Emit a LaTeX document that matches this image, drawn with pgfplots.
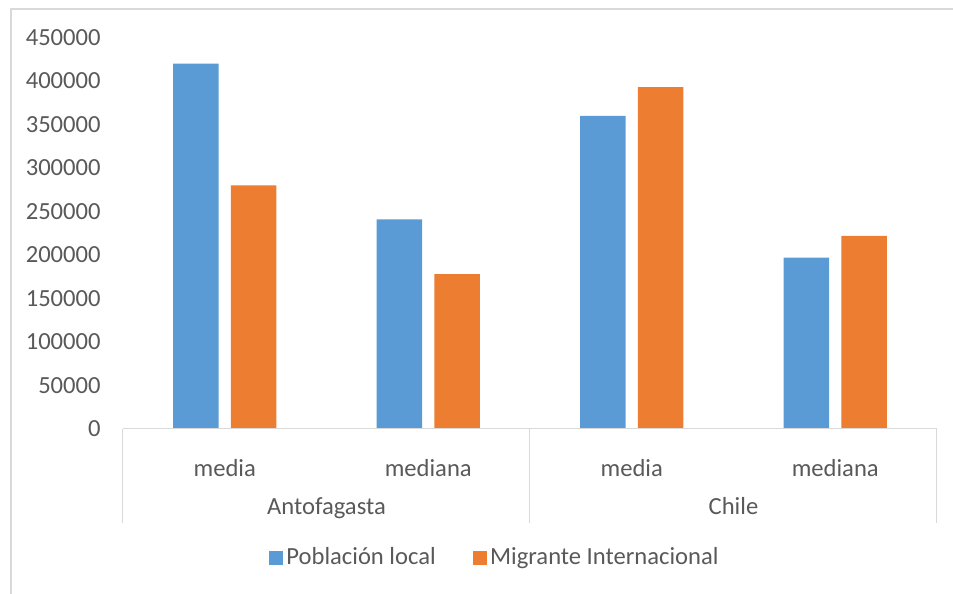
\documentclass[border=0pt]{standalone}
\usepackage{fontspec}
\setmainfont{Carlito}
\usepackage{pgfplots}
\pgfplotsset{compat=1.18}
\definecolor{locblue}{HTML}{5B9BD5}
\definecolor{migorange}{HTML}{ED7D31}
\definecolor{txtgray}{HTML}{595959}
\definecolor{linegray}{HTML}{D9D9D9}
\newcommand{\chartfont}{\fontsize{12.3}{14.5}\selectfont}

\begin{document}
\begin{tikzpicture}[x=1pt,y=1pt]
\useasboundingbox (0,0) rectangle (476.5,297);
% chart frame
\draw[linegray, line width=0.85pt] (5.5,-3) -- (5.5,292.5) -- (480,292.5);
\begin{axis}[
  at={(61.5pt,82.5pt)}, anchor=south west,
  scale only axis, width=407pt, height=195.75pt,
  clip=false,
  ymin=0, ymax=450000,
  ytick={0,50000,100000,150000,200000,250000,300000,350000,400000,450000},
  yticklabels={0,50000,100000,150000,200000,250000,300000,350000,400000,450000},
  scaled y ticks=false,
  xmin=-0.5, xmax=3.5,
  xtick={0,1,2,3}, xticklabels={media,mediana,media,mediana},
  ybar=6.15pt, bar width=22.75pt,
  axis line style={draw=none},
  tick style={draw=none},
  yticklabel style={anchor=east, inner sep=0pt, xshift=-11pt, font=\chartfont, text=txtgray},
  xticklabel style={anchor=base, inner sep=0pt, yshift=-19.5pt, font=\chartfont, text=txtgray},
  legend style={at={(0.4576,-0.3287)}, anchor=center, draw=none, fill=none,
    legend columns=2, font=\chartfont, text=txtgray,
    /tikz/every even column/.append style={column sep=17pt},
    nodes={inner sep=1.6pt}},
  legend cell align=left,
  legend image code/.code={\fill[#1] (0pt,-3.5pt) rectangle (7pt,3.5pt);},
]
\addplot[fill=locblue, draw=none] coordinates {(0,420000) (1,241000) (2,360000) (3,197000)};
\addplot[fill=migorange, draw=none] coordinates {(0,280000) (1,178000) (2,393000) (3,222000)};
\legend{Población local, Migrante Internacional}
% category axis and group separators
\draw[linegray, line width=0.5pt] (axis cs:-0.5,0) -- (axis cs:3.5,0);
\draw[linegray, line width=0.5pt] (axis cs:-0.5,0) -- ([yshift=-47pt]axis cs:-0.5,0);
\draw[linegray, line width=0.5pt] (axis cs:1.5,0) -- ([yshift=-47pt]axis cs:1.5,0);
\draw[linegray, line width=0.5pt] (axis cs:3.5,0) -- ([yshift=-47pt]axis cs:3.5,0);
\node[anchor=base, inner sep=0pt, font=\chartfont, text=txtgray, yshift=-42.5pt] at (axis cs:0.5,0) {Antofagasta};
\node[anchor=base, inner sep=0pt, font=\chartfont, text=txtgray, yshift=-42.5pt] at (axis cs:2.5,0) {Chile};
\end{axis}
\end{tikzpicture}
\end{document}
